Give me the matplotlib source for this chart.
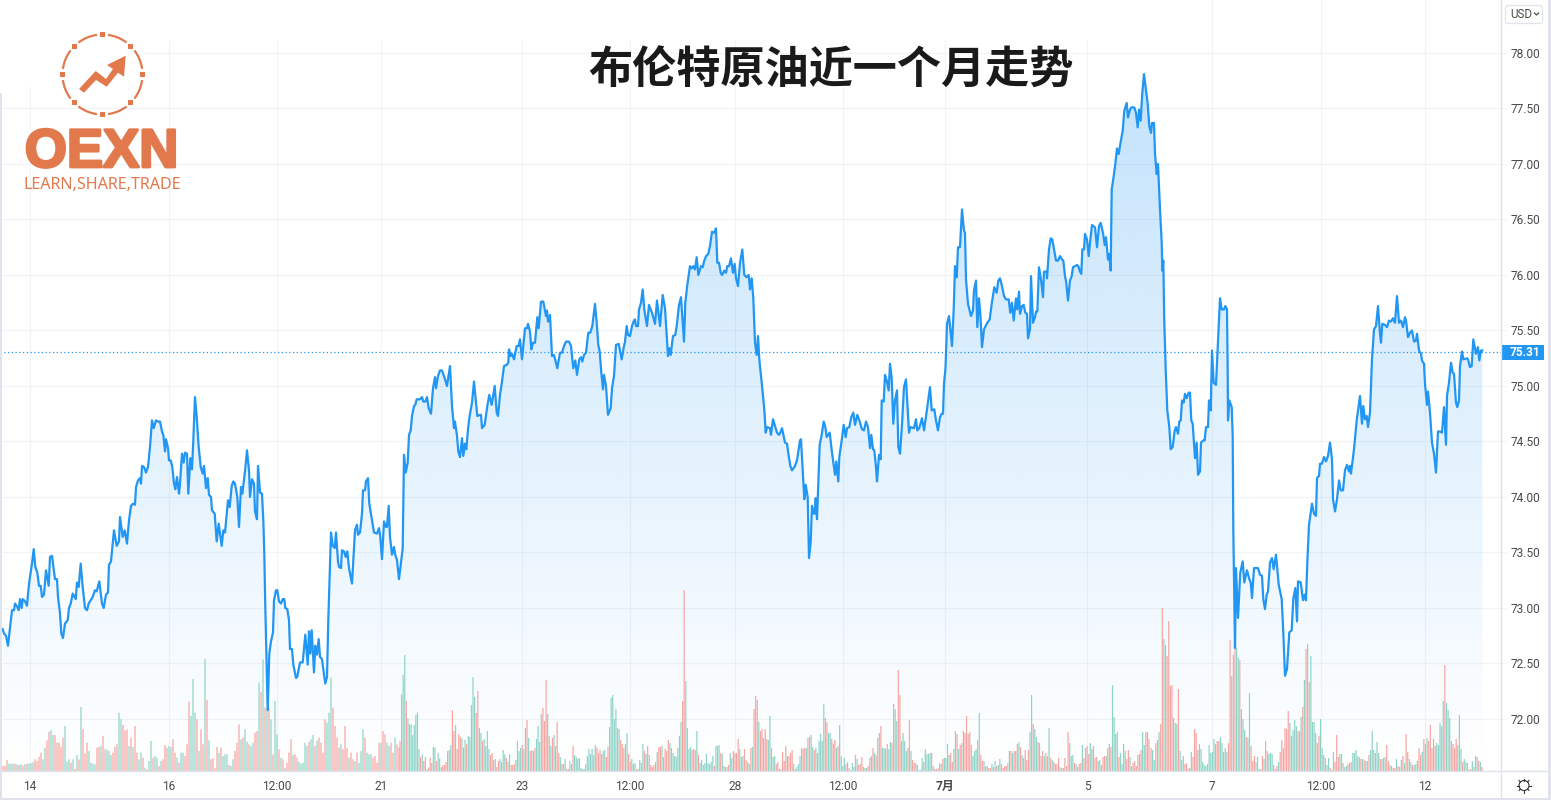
import numpy as np
import matplotlib
matplotlib.use("Agg")
import matplotlib.pyplot as plt
from matplotlib.patches import Rectangle, Polygon, Arc, FancyBboxPatch, Circle
from matplotlib.transforms import Affine2D
import matplotlib.patheffects as pe

TITLE = "布伦特原油近一个月走势"
LAST_PRICE = 75.31
price_ticks = [72.0, 72.5, 73.0, 73.5, 74.0, 74.5, 75.0, 75.5, 76.0, 76.5, 77.0, 77.5, 78.0]
time_ticks = [30, 169, 277, 381, 522, 630, 735, 843, 945, 1087, 1212, 1321, 1425]
time_labels = ["14", "16", "12:00", "21", "23", "12:00", "28", "12:00", "7月", "5", "7", "12:00", "12"]

t_a = [2.7,4,6,8,10,12,14,15,17.3,18.7,20,21.7,22.7,25,27,28.7,30,32,33.7,35.3,37.3,39,40.7,42,44,46,48.7,50,52,55,57,58,60,61.3,63,65,67.7,69,70.7,72.7,75.7,77,78.7,80.7,82.7,85,87,88.7,90.7,92.7,95,96.7,99.3,102,103.7,106,108,109,111,114,116.7,119,120,122.7,124.7,127,129,131,133,135,136,138,140,141,142,144,146,148,150,152,153.7,156,158,160,162,163.3,165,166,168,169,170.7,172.3,174,175.3,177,179,180,182,183.7,185,187,188.3,190.3,192,193.3,195,196.7,198.7,200.7,202.7,204,206,207.7,209,211,212,214.7,216.7,218.7,221.7,223.3,225,228,229.7,231.7,233.3,235,237.3,239,241,242.3,245,247,249,250,252,254,255,257,258,260,262,263.3,264.3,265.3,266.3,267.7,269.3,271,273,274,276,277.3,279,281,282.7,284.3,285.3,287.3,289,290,292,293.3,296,297.3,300,302.7,305.3,307.7,309,310.3,311.7,314,315.3,317,318.7,320,322,324,325.3,327,328.3,329.7,331,332.7,334.7,336,338,339,341,342,344,345.7,347.3,349,352,353.7,355,357,358,360,362,363,365,366,368,369.3,372,374,377,379,380.3,382,384,386,387,388.7,390,392,394,395,397,399]
p_a = [72.81,72.77,72.75,72.66,72.82,72.98,72.98,73.04,73.01,72.98,73.08,73.0,73.08,73.06,73.02,73.19,73.28,73.40,73.53,73.37,73.32,73.20,73.20,73.10,73.12,73.34,73.20,73.46,73.47,73.26,73.26,73.10,72.95,72.77,72.73,72.86,72.89,73.0,73.04,73.13,73.08,73.23,73.19,73.40,73.19,73.0,72.98,73.04,73.07,73.10,73.16,73.15,73.24,73.04,73.0,73.12,73.14,73.39,73.42,73.70,73.56,73.60,73.82,73.64,73.70,73.58,73.79,73.92,73.94,73.93,74.09,74.15,74.17,74.12,74.28,74.27,74.22,74.27,74.45,74.69,74.62,74.69,74.68,74.68,74.59,74.56,74.41,74.52,74.44,74.33,74.33,74.27,74.12,74.07,74.18,74.03,74.12,74.39,74.31,74.40,74.39,74.03,74.35,74.25,74.51,74.90,74.72,74.45,74.27,74.21,74.28,74.08,74.17,74.02,74.0,73.88,73.85,73.60,73.76,73.56,73.70,73.68,73.97,73.91,74.10,74.14,74.12,74.0,73.73,74.09,74.03,74.23,74.42,74.24,74.0,74.16,74.12,73.87,73.80,74.28,74.04,74.03,73.79,73.49,73.01,72.62,72.08,72.59,72.70,72.78,73.07,73.16,73.16,73.06,73.04,73.08,73.08,73.0,72.99,72.89,72.63,72.63,72.49,72.37,72.38,72.51,72.51,72.76,72.49,72.79,72.59,72.80,72.42,72.66,72.58,72.72,72.56,72.54,72.40,72.32,72.38,72.89,73.31,73.68,73.56,73.54,73.68,73.42,73.37,73.36,73.52,73.51,73.46,73.51,73.36,73.22,73.49,73.70,73.75,73.66,73.68,73.85,74.06,74.06,74.14,74.17,73.94,73.79,73.68,73.67,73.72,73.64,73.44,73.78,73.73,73.73,73.92,73.64,73.48,73.55,73.49,73.43,73.26]

t_b = [402.7,404,405.7,407.7,409,410.7,412,414,415.3,416.7,420,422,423.3,425.3,427,428.7,431,433,435,436,438,440,442,444.7,447,450,452,454,455,457,458.3,460,462,463.3,465,466.3,468,469.3,472,474,477.3,480,481,482,484.7,487.3,489.3,491.7,494.7,496.7,498,500,502,504,506.7,508.3,509,510.7,512,514,516.7,518.7,520,522,525,527,528,530,531.3,533,535,537.3,538.7,541,543.3,546,547,548,550,552,554,557.3,560,562,564,566,569,571,573.3,575.3,577,579.3,581,582.3,584,586,588.3,590.3,592.3,595,596.7,598.3,599.7,601.3,603,604,606,608,610.7,612,614,616,618.7,621.7,624,625,626.7,628,630,632,634,635,636,638,639,641,642.7,644.3,647,649,652,655,657,660,662.7,665,668,669.3,670.7,673,675.3,676.7,679,681,684,685.3,687.3,690,691.7,693.3,695,696.7,698.3,701,702.7,704,706,708.3,710,712,714.3,716,717.3,719,720.7,722,724.3,726,727.3,729,731,733,734.7,736,738,740,742.3,744.3,746.7,748.7,750,751.7,753.3,755,756.7,758,759.3,761.7,764.3,765.7,767,770,771,773,775,777,779,780.3,782,785,787,788.7,790.3,792,795,797,800]
p_b = [73.54,74.38,74.22,74.31,74.56,74.60,74.73,74.82,74.83,74.88,74.88,74.90,74.86,74.86,74.90,74.80,74.75,74.98,75.08,74.98,75.09,75.14,75.14,75.07,75.0,75.18,74.82,74.62,74.68,74.55,74.41,74.36,74.53,74.37,74.48,74.43,74.61,74.71,74.85,75.04,74.73,74.74,74.74,74.62,74.65,74.82,74.92,74.83,75.0,74.76,74.73,74.92,75.04,75.18,75.19,75.21,75.33,75.27,75.29,75.24,75.36,75.36,75.42,75.24,75.52,75.52,75.56,75.49,75.33,75.39,75.39,75.62,75.52,75.76,75.76,75.63,75.68,75.58,75.64,75.27,75.28,75.16,75.30,75.30,75.36,75.40,75.40,75.36,75.16,75.23,75.10,75.24,75.26,75.22,75.28,75.30,75.48,75.48,75.54,75.74,75.57,75.37,75.31,75.12,74.97,75.10,75.0,74.74,74.80,74.98,75.09,75.37,75.38,75.24,75.36,75.40,75.54,75.46,75.45,75.54,75.59,75.60,75.54,75.54,75.69,75.75,75.87,75.69,75.54,75.73,75.66,75.56,75.77,75.54,75.82,75.70,75.27,75.34,75.28,75.45,75.46,75.54,75.73,75.80,75.40,75.75,75.91,76.08,76.06,76.08,76.05,76.16,76.0,76.08,76.07,76.12,76.17,76.19,76.26,76.39,76.38,76.42,76.11,76.11,76.02,76.0,76.04,76.02,76.08,76.08,76.15,76.02,76.10,75.97,75.90,76.11,76.23,76.0,75.98,76.0,75.87,75.97,75.79,75.39,75.28,75.45,75.24,75.03,74.79,74.58,74.63,74.62,74.56,74.70,74.64,74.58,74.56,74.58,74.62,74.49,74.48,74.37,74.28,74.24,74.28,74.33,74.51]

t_c = [801,802.7,804.3,805.7,807.7,809,810.7,812,813.7,814.7,815.7,817,818.3,819.7,821.7,823.7,825.3,826.7,829.7,831.7,835,836.3,838.3,839.3,841.7,843.7,845.7,847,849.3,851.3,853.3,855,857.3,859.3,862,864,866,868,870,871.3,873,874.3,876,877,879,880.7,881.7,883.7,885,886.7,888.7,890,891.7,893.3,895,897,898.3,900,902,904,906,909,910.3,914,916,917.3,919.3,922,924,926.7,930,931.7,934.3,936,938,940,941.7,943,944,945.3]
p_c = [74.52,74.24,73.98,74.11,74.0,73.45,73.60,73.92,73.85,73.85,73.99,73.80,74.12,74.47,74.56,74.68,74.63,74.54,74.58,74.42,74.20,74.32,74.14,74.36,74.51,74.65,74.54,74.62,74.63,74.72,74.76,74.65,74.74,74.69,74.61,74.60,74.68,74.63,74.44,74.56,74.43,74.42,74.27,74.14,74.38,74.34,74.87,74.86,75.10,75.05,74.96,75.20,75.07,74.66,74.87,74.96,74.45,74.39,74.65,74.99,75.06,74.58,74.63,74.62,74.70,74.60,74.62,74.71,74.60,74.77,74.99,74.78,74.79,74.69,74.60,74.72,74.75,74.75,75.02,75.14]

t_d = [945.7,947,949,952,953.7,955,956.7,958,960,962,964,965,966,968,971,973,974,976,977.3,979,980.3,982,984,986.7,989.7,991.7,994.3,996.7,998.3,1000,1002,1004,1006,1008.7,1010.3,1012,1013.7,1016,1017.3,1019,1020,1022,1023.7,1025.3,1027,1028,1030,1031,1033,1035,1036,1037.3,1039,1041,1043,1044,1046.7,1047,1049,1050.7,1052.3,1054,1056,1058,1060,1062,1063.3,1065,1066.3,1068,1070,1071.7,1073,1075,1077,1078.3,1080,1081.3,1082.3,1084,1085,1087,1088.7,1090,1092,1095,1097,1099,1100.7,1103,1104.7,1106,1108,1109,1110.7,1111.7,1113.7,1115.3,1117,1118.7,1120.3,1122.7,1124.3,1126.7,1128,1130,1131.3,1134.3,1136,1137.7,1139,1140.7,1142.3,1144,1146,1147.7,1149.3,1151,1152,1154,1155,1156.7,1158,1160,1161.7,1162.3,1163.3]
p_d = [75.21,75.56,75.63,75.36,75.69,76.08,75.98,76.25,76.25,76.59,76.40,76.38,75.96,75.74,75.63,75.68,75.86,75.95,75.53,75.79,75.65,75.35,75.51,75.56,75.60,75.74,75.89,75.84,75.95,75.97,75.90,75.81,75.78,75.78,75.66,75.75,75.59,75.79,75.69,75.85,75.65,75.72,75.73,75.66,75.65,75.43,75.51,75.99,75.57,75.62,75.67,75.67,76.07,75.96,75.80,76.03,76.03,75.97,76.23,76.33,76.32,76.23,76.13,76.13,76.17,76.14,76.13,75.99,75.93,75.77,75.95,75.99,76.07,76.08,76.09,76.08,76.03,76.01,76.23,76.23,76.37,76.32,76.17,76.29,76.45,76.43,76.25,76.44,76.47,76.38,76.27,76.34,76.14,76.19,76.04,76.77,76.89,77.0,77.14,77.09,77.18,77.30,77.48,77.55,77.42,77.49,77.51,77.51,77.46,77.33,77.49,77.39,77.64,77.81,77.66,77.54,77.34,77.28,77.37,77.37,77.09,76.91,77.0,76.59,76.29,76.04,76.13]

t_e = [1164.3,1165.7,1167.3,1169.3,1170.7,1172.7,1174.7,1176,1178,1179.3,1180.7,1182,1183.7,1185,1186.7,1188.7,1190,1191.3,1192.7,1195,1196.7,1198,1200,1201,1203.3,1204.7,1206,1208,1209,1210.7,1212,1213.7,1216,1218,1220,1221.7,1224,1225.3,1227,1227.7,1228,1229.3,1231.7,1232.7,1233.3,1235,1236,1238,1240.3,1242.7,1244.3,1247,1249.3,1250.7,1252,1254,1256,1258,1260,1262,1263.3,1265,1266.7,1268,1270,1272,1273.7,1276,1278.7,1281.7,1283.3,1285,1287,1289.3,1291.7,1293.3,1295.3,1297,1298,1300.7,1303,1304.7,1306,1307.3,1309,1312,1314,1316,1317,1319,1320,1322,1324,1326,1328,1330,1332,1333,1335,1337,1339,1340.7,1343,1345,1347,1349,1350,1351,1354,1356.7,1360,1362,1363.3,1365,1366.7,1368,1370,1372,1374,1376,1378,1380,1381,1382.3,1385,1387,1389,1391,1393,1395,1397,1399,1401,1403,1405,1406,1408,1410,1412,1414,1416,1417,1419,1421,1422,1424,1425,1427,1428,1430,1432,1434,1436,1438,1440,1442,1444,1446,1447,1449,1451,1452.7,1454,1456,1457.3,1459,1460,1462,1463.3,1467,1468,1470,1471.7,1473.3,1476,1478,1479.3,1481,1482.3]
p_e = [75.57,75.15,74.78,74.63,74.43,74.45,74.60,74.63,74.57,74.68,74.69,74.87,74.85,74.93,74.89,74.94,74.94,74.69,74.66,74.35,74.49,74.20,74.23,74.49,74.51,74.51,74.63,74.63,74.87,74.78,75.32,75.03,75.01,75.39,75.79,75.69,75.69,75.72,75.69,75.12,74.69,74.87,74.81,74.55,73.71,72.64,73.36,72.91,73.32,73.42,73.23,73.34,73.26,73.23,73.09,73.36,73.36,73.36,73.30,73.29,73.08,72.99,73.12,73.15,73.41,73.45,73.35,73.48,73.21,73.08,72.78,72.39,72.45,72.78,72.80,73.08,73.18,72.88,73.24,73.23,73.07,73.12,73.07,73.41,73.75,73.94,73.85,73.83,74.17,74.19,74.30,74.30,74.36,74.32,74.37,74.49,74.34,73.98,73.87,73.98,74.15,74.06,74.06,74.24,74.29,74.23,74.28,74.21,74.43,74.69,74.91,74.66,74.82,74.70,74.73,74.63,74.76,75.24,75.51,75.54,75.72,75.47,75.39,75.56,75.55,75.53,75.59,75.58,75.61,75.57,75.81,75.57,75.59,75.53,75.62,75.59,75.44,75.48,75.50,75.40,75.41,75.47,75.32,75.29,75.23,75.20,75.02,74.83,74.95,74.76,74.49,74.39,74.22,74.59,74.59,74.58,74.81,74.47,74.91,75.03,75.21,75.12,75.11,74.85,74.81,74.87,75.18,75.31,75.24,75.25,75.24,75.17,75.18,75.42,75.29,75.35,75.23,75.32,75.32]

# volumes: positive = up bar, negative = down bar
vol_a = [-15,-15,-33,22,22,22,-22,20,-18,20,-16,20,-22,22,24,26,-35,-30,-42,-55,35,70,-92,-118,123,108,-108,-85,-85,-72,-100,135,28,35,-25,35,-6,48,-35,192,-125,-52,-85,60,25,22,20,-70,-72,75,-105,-65,65,60,48,-55,-72,-80,175,155,-138,-122,-125,75,-100,72,-135,-55,35,55,-40,10,-5,30,90,-40,45,40,-15,30,-35,-78,-70,75,72,-95,-55,40,-25,55,55,-45,-80,-208,165,276,175,-155,60,-125,-80,336,-213,92,-35,-38,-8,-72,55,-70,45,50,50,-18,15,35,-60,-85,-140,95,-100,125,88,-80,75,85,-115,-120,265,-238,335,-190,190,-190,155,-50,210,110,-65,40,-35,8,-25,-55,-95,48,-50,-40,28,22,25,85,75,-88,95,108,-75,92,-100,-85,-55,-155,145,175,280,-190,-135,-100,-70,80,-65,-135,-70,40,-55,-35,30,-55,25,60,125,-100,55,50,50,-40,-45,-25,-85,85,-120,-110,85,75,-85,-55,100,-80,-70]
vol_b = [-90,230,288,348,-210,158,140,140,108,138,168,176,66,-42,50,-30,-42,5,-10,-40,-24,72,70,-30,54,38,12,-18,-18,-27,-60,63,78,-183,-120,138,-66,-111,-102,97,70,93,-80,105,102,198,282,222,-174,-240,129,114,-90,96,75,120,66,-48,-54,-33,36,-12,-30,36,-27,63,50,-39,27,50,-18,-18,-21,33,90,60,69,-78,66,129,-153,99,-60,-63,60,-69,96,135,87,171,-189,-150,-273,171,-105,75,-99,108,75,-147,-54,42,-21,-21,36,6,-6,30,-21,-75,48,42,36,39,9,6,6,21,45,66,51,66,48,78,-70,-54,-63,-51,60,63,-42,-72,132,219,228,156,186,-129,126,-93,-81,-69,81,114,-51,-27,36,21,24,-6,6,33,24,81,-60,51,-75,48,-18,-12,-18,-27,57,-72,-72,75,42,-66,-60,-93,84,-69,54,45,42,69,105,147,-210,-543,270,129,66,72,-63,-66,-63,120,-48,24,33,18,24,51,24,21,27,45,-15,75,75,78,-54,51,15,-12,12,-18,54,39,-60,-54,-54,-96,66,42,45,-66,-33,27,21,-69,72,-186,-225,-213,147,-120,-126,99,-126,-96,93,165,-69,42,45,-21,-27,-6,-6,-57,-30,-75,45,-45,-54,-63,21,6,12,21]
vol_c = [45,69,-66,-69,69,-99,-102,108,72,-63,69,-54,90,111,90,201,-159,-147,114,114,-96,-81,-93,69,-75,138,45,15,39,-21,27,-9,3,24,12,-48,36,-18,-21,-42,-12,9,9,-15,-39,45,-69,54,-48,-99,114,-135,69,69,66,-81,66,87,-84,-201,186,150,-303,-228,90,114,90,60,-69,-153,60,-33,-24,24,18,3,3,39,-27,66,51,51,54,-54,15,-6,-6,-9,24,21,-36,39,39,81,48,-54,-27,66,120,-111,66,-78,84,-120,-114,-165,-111,-117,-78,45,60,66,-93,174,-48,-30,30,15,15,-9,-9,21,12,30,-15,18,36,-21,-9,-15,-15,24,60,-60,54,-60,60,-81,87,-72,48,39,-63,-33,-63,117,228,-141,126,102,-87,84,-45,-60,45,-54,-45,129,-39,33,-27,-21,-21,-39,12,-9,-9,-39,-15,-117,84,45,48,-24,21,12,-21,-24,78,-39,69,-75,-51,84,66,-75,-39,-42,30,33,-18,-42,-45,45,-69,81,-72,258,162,111,117,-42,54,21,81,60,-36,-63,42,-15,-24,-30,-15,-48,51,-63,117,78,-117,-117,-96]
vol_d = [-69,63,33,-84,-93,117,-141,-489,396,378,-345,-450,-255,-258,159,144,141,-246,60,33,45,-21,-24,-6,9,57,-42,-126,-114,63,-81,66,27,18,15,21,78,54,57,96,-81,-90,-90,102,84,-57,69,57,-84,-393,285,-348,-372,369,340,-333,-186,156,123,-102,99,234,-75,-30,-45,27,42,6,6,-45,36,-90,-60,51,54,51,-18,-6,-15,27,-57,-93,-69,-129,-126,-180,144,-105,123,153,135,-120,-120,162,-192,273,-366,381,-267,345,147,147,114,-84,-105,156,69,48,-39,18,39,-9,-3,57,-27,-108,-42,51,51,-24,12,15,-21,24,-27,54,54,63,45,42,-36,36,-33,30,30,-48,63,120,63,-54,87,54,-36,36,-39,42,-78,-30,18,-15,-9,-9,36,-15,-12,33,-45,24,-111,-57,36,27,-18,18,21,30,-69,-48,57,-96,81,99,-90,-138,-69,-96,-75,84,78,144,135,210,-318,204,183,159,-90,-81,-69,-96,78,168,66,-27,36,27,24,-3,-6,30,12,-45,42,-30,27,-12]

BLUE = "#2196f3"
GRID = "#f1f3f6"
AXIS = "#e0e3eb"
ORANGE = "#e2794d"
UP = "#8ed3c7"
DOWN = "#f6a5a2"
TXT = "#4a4a4a"
FONT = ["Roboto", "Noto Sans CJK SC", "DejaVu Sans"]
plt.rcParams["font.family"] = FONT

W, H = 1551, 800
fig = plt.figure(figsize=(W / 100, H / 100), dpi=100, facecolor="white")
rect = [0, (H - 771) / H, 1501 / W, 771 / H]
px = Affine2D().scale(1, -1).translate(0, H)  # reference-pixel placement for decoration


def bg_axes(**kw):
    a = fig.add_axes(rect, **kw)
    a.patch.set_visible(False)
    return a


ax = fig.add_axes(rect, facecolor="white", zorder=1)
ax_vol = bg_axes(zorder=2)
ax_line = bg_axes(zorder=3)
ymin, ymax = 78 - 718 / 111, 78 + 53 / 111
for a in (ax, ax_line, ax_vol):
    a.set_xlim(0, 1501)
for a in (ax, ax_line):
    a.set_ylim(ymin, ymax)
ax_vol.set_ylim(0, 771 * 3)
for a in (ax_vol, ax_line):
    a.axis("off")

ax.set_axisbelow(True)
ax.grid(True, color=GRID, lw=0.75)
ax.yaxis.tick_right()
ax.set_yticks(price_ticks, [f"{v:.2f}" for v in price_ticks], fontsize=8.6, color=TXT)
ax.set_xticks(time_ticks, time_labels, fontsize=8.6, color=TXT)
ax.tick_params(axis="y", length=3.6, width=0.75, color=GRID, pad=3.2)
ax.tick_params(axis="x", length=0, pad=6.4)
ax.get_xticklabels()[8].set_fontweight("bold")
for s in ax.spines.values():
    s.set_visible(False)

# white panels behind the logo and title hide the grid there
ax.add_patch(Rectangle((0, 0), 143, 87, transform=px, fc="white", ec="none", zorder=0.8))
ax.add_patch(Rectangle((0, 0), 1100, 40, transform=px, fc="white", ec="none", zorder=0.8))

t = np.array(t_a + t_b + t_c + t_d + t_e)
p = np.array(p_a + p_b + p_c + p_d + p_e)

# area gradient
grad = np.zeros((400, 2, 4))
grad[..., 0], grad[..., 1], grad[..., 2] = 33 / 255, 150 / 255, 243 / 255
grad[..., 3] = np.linspace(0.27, 0.0, 400)[:, None]
top_p = 78 - (75 - 53) / 111
poly = ax.fill_between(t, p, ymin, color="none", lw=0)
im = ax.imshow(grad, extent=(t[0], t[-1], ymin, top_p), aspect="auto", origin="upper",
               zorder=1, interpolation="bilinear")
im.set_clip_path(poly.get_paths()[0], transform=ax.transData)
ax.set_xlim(0, 1501)
ax.set_ylim(ymin, ymax)

# volume bars, soft-edged like the reference
segments = [(vol_a, 3, 399), (vol_b, 400, 798.5), (vol_c, 800, 1149), (vol_d, 1151, 1482)]
for vals, a0, a1 in segments:
    v = np.array(vals, dtype=float)
    xs = np.linspace(a0, a1, len(v))
    bars = ax_vol.bar(xs, np.abs(v), width=1.2, color=[UP if q > 0 else DOWN for q in v], lw=0)
    for b in bars:
        b.set_snap(False)

ax_line.axhline(LAST_PRICE, color=BLUE, lw=0.9, ls=(0, (1, 2)))
ax_line.plot(t, p, color=BLUE, lw=1.6, solid_joinstyle="round")

# overlay furniture in reference pixels
ov = fig.add_axes([0, 0, 1, 1], zorder=5)
ov.set_xlim(0, W)
ov.set_ylim(H, 0)
ov.axis("off")
ov.patch.set_visible(False)
ov.plot([1500.5, 1500.5], [0, 800], color=AXIS, lw=1.0)
ov.plot([0, 1548], [771, 771], color=AXIS, lw=1.0)
ov.add_patch(Rectangle((0, 93), 2, 707, fc=AXIS, ec="none"))
ov.add_patch(Rectangle((1548, 0), 3, 800, fc=AXIS, ec="none"))
ov.add_patch(Rectangle((0, 798), 1551, 2, fc=AXIS, ec="none"))

# last-price tag
ov.add_patch(Rectangle((1501, 345), 43, 15, fc=BLUE, ec="none"))
ov.text(1524.5, 352.5, f"{LAST_PRICE:.2f}", color="white", fontsize=8.6, fontweight="bold", ha="center", va="center")

# currency button
ov.add_patch(FancyBboxPatch((1505.5, 5.5), 37, 18, boxstyle="round,pad=0,rounding_size=3", fc="white", ec=AXIS, lw=0.9))
ov.text(1510, 14.5, "USD", color=TXT, fontsize=8.4, ha="left", va="center")
ov.plot([1534.5, 1536.5, 1538.5], [13, 15, 13], color=TXT, lw=0.9)

# settings icon
ov.add_patch(Circle((1524, 785.5), 5, fc="none", ec="#333333", lw=0.8))
for ang in np.deg2rad(np.arange(0, 360, 45)):
    ov.plot([1524 + 5 * np.cos(ang), 1524 + 7 * np.cos(ang)],
            [785.5 + 5 * np.sin(ang), 785.5 + 7 * np.sin(ang)], color="#333333", lw=0.8)

# title
ov.text(831, 71, TITLE, fontsize=31.8, fontweight="bold", color="#1a1a1a", ha="center", va="center",
        family=["Noto Sans CJK SC", "DejaVu Sans"])

# logo
cx, cy, r = 102.5, 74.5, 40
for a0 in (-90, -45, 0, 45, 90, 135, 180, 225):
    ov.add_patch(Arc((cx, cy), 2 * r, 2 * r, theta1=a0 + 8, theta2=a0 + 37, color=ORANGE, lw=1.6))
    b = np.deg2rad(a0)
    qx, qy = cx + r * np.cos(b), cy + r * np.sin(b)
    ov.add_patch(Rectangle((qx - 2.7, qy - 2.7), 5.4, 5.4, fc=ORANGE, ec="none"))
ov.add_patch(Polygon([(79, 89), (95.7, 71), (106, 79), (113, 69), (107, 65), (125.7, 55.7),
                      (124, 76.7), (118, 72.7), (106.7, 86.7), (96, 80), (84, 92.7)], fc=ORANGE, ec="none"))
ov.text(101.5, 153, "OEXN", fontsize=39, fontweight="bold", color=ORANGE, ha="center", va="center",
        family=["Liberation Sans"], path_effects=[pe.withStroke(linewidth=2.0, foreground=ORANGE)])
ov.text(102, 185, "LEARN,SHARE,TRADE", fontsize=11.6, color=ORANGE, ha="center", va="center",
        family=["Noto Sans"])

fig.savefig("out.png", dpi=100, facecolor="white")
